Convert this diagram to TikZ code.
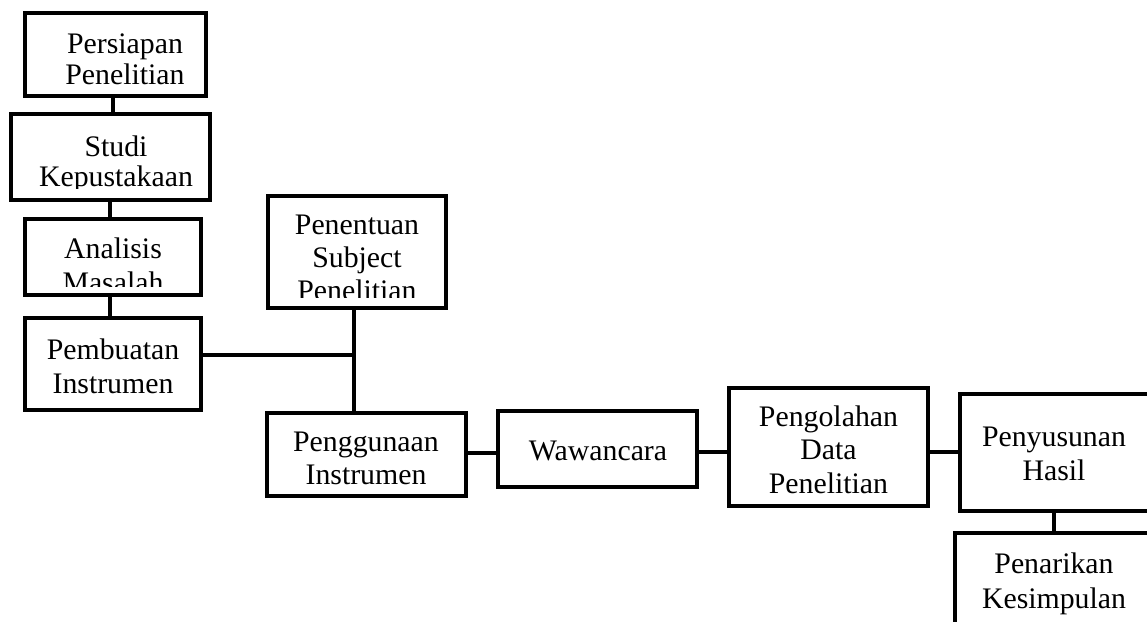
\documentclass[tikz,border=0pt]{standalone}
\usepackage{fontspec}
\setmainfont{Liberation Serif}
\usetikzlibrary{fit}
\newcommand\tl[2][33pt]{\vtop{\baselineskip=#1\relax\halign{\hfil##\hfil\cr#2\crcr}}}
\begin{document}
\begin{tikzpicture}[x=1pt,y=-1pt,
  box/.style={draw, line width=3.3pt, inner sep=0pt},
  txt/.style={anchor=base, inner sep=0pt, font=\fontsize{29.8}{33}\selectfont},
  conn/.style={line width=3.2pt},
  connthick/.style={line width=4.8pt}]
\useasboundingbox (0,0) rectangle (1147,621);
\clip (0,0) rectangle (1147,621);
% boxes
\node[box, fit={(25,13) (206,96)}] (b1) {};
\node[box, fit={(11,114) (210,200)}] (b2) {};
\node[box, fit={(25,219) (201,295)}] (b3) {};
\node[box, fit={(25,318) (201,410)}] (b4) {};
\node[box, fit={(268,196) (446,308)}] (b5) {};
\node[box, fit={(267,413) (466,496)}] (b6) {};
\node[box, fit={(498,411) (697,487)}] (b7) {};
\node[box, fit={(729,388) (928,506)}] (b8) {};
\node[box, fit={(960,394) (1149,511)}] (b9) {};
\node[box, fit={(955,533) (1153,640)}] (b10) {};
% texts
\node[txt] (t1) at (125,53) {\tl[31.5pt]{Persiapan\cr Penelitian}};
\begin{scope}
\clip (0,100) rectangle (300,188);
\node[txt] (t2) at (116,156) {\tl[30.5pt]{Studi\cr Kepustakaan}};
\end{scope}
\begin{scope}
\clip (0,210) rectangle (300,286);
\node[txt] (t3) at (113,258) {\tl[34pt]{Analisis\cr Masalah}};
\end{scope}
\node[txt] (t4) at (113,359) {\tl[34pt]{Pembuatan\cr Instrumen}};
\begin{scope}
\clip (260,190) rectangle (460,297);
\node[txt] (t5) at (357,234) {\tl[33pt]{Penentuan\cr Subject\cr Penelitian}};
\end{scope}
\node[txt] (t6) at (366,451) {\tl[33pt]{Penggunaan\cr Instrumen}};
\node[txt] (t7) at (598,460) {Wawancara};
\node[txt] (t8) at (828.5,426) {\tl[33.5pt]{Pengolahan\cr Data\cr Penelitian}};
\node[txt] (t9) at (1054,446) {\tl[34pt]{Penyusunan\cr Hasil}};
\node[txt] (t10) at (1054,573) {\tl[35pt]{Penarikan\cr Kesimpulan}};
% connector coordinates
\coordinate (x1) at (113,0);
\coordinate (x2) at (110,0);
\coordinate (j) at (354,355);
\coordinate (y1) at (0,453);
\coordinate (y2) at (0,452);
\coordinate (x3) at (1054,0);
% connectors
\draw[connthick] (b1.south -| x1) -- (b2.north -| x1);
\draw[connthick] (b2.south -| x2) -- (b3.north -| x2);
\draw[connthick] (b3.south -| x2) -- (b4.north -| x2);
\draw[conn] (b4.east |- j) -- (j);
\draw[conn] (b5.south -| j) -- (b6.north -| j);
\draw[conn] (b6.east |- y1) -- (b7.west |- y1);
\draw[conn] (b7.east |- y2) -- (b8.west |- y2);
\draw[conn] (b8.east |- y2) -- (b9.west |- y2);
\draw[connthick] (b9.south -| x3) -- (b10.north -| x3);
\end{tikzpicture}
\end{document}
